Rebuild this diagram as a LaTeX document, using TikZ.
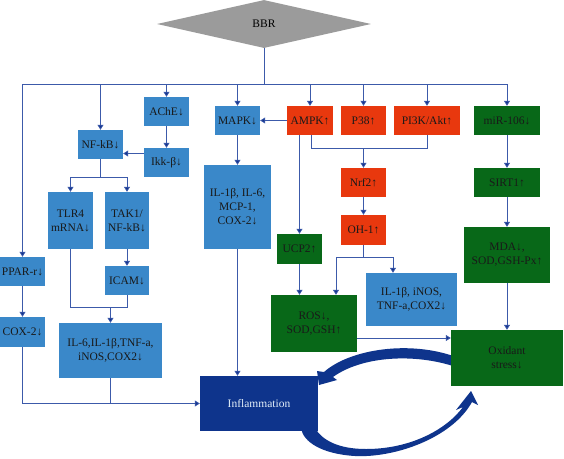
\documentclass[tikz,border=0pt]{standalone}
\usepackage{fontspec}
\setmainfont{Liberation Serif}
\usetikzlibrary{shapes.geometric,arrows.meta,calc}
\definecolor{lb}{RGB}{58,136,201}
\definecolor{rd}{RGB}{232,56,14}
\definecolor{gr}{RGB}{8,104,24}
\definecolor{db}{RGB}{14,52,140}
\definecolor{gy}{RGB}{155,155,155}
\definecolor{ln}{RGB}{60,90,170}
\definecolor{ah}{RGB}{20,50,140}
\begin{document}
\begin{tikzpicture}[x=1pt,y=-1pt,
  box/.style={rectangle, inner sep=1pt, align=center, font=\fontsize{11.5}{14}\selectfont, text=black!90},
  bluebox/.style={box, fill=lb},
  redbox/.style={box, fill=rd},
  greenbox/.style={box, fill=gr},
  conn/.style={draw=ln, line width=0.8pt},
  arr/.style={conn, -{Triangle[width=6pt,length=5pt,fill=ah]}},
  bigarrow/.style={fill=db}]
\useasboundingbox (0,0) rectangle (564,458);
\fill[white] (0,0) rectangle (564,458);

% curved arrows (drawn first, boxes cover tails)
\fill[bigarrow] (319,385) -- (317,371) -- (324,372)
  .. controls (350,349) and (410,340) .. (456,357) -- (456,367)
  .. controls (415,353) and (362,356) .. (333,377) -- (337,380) -- cycle;
\fill[bigarrow] (471,391) -- (478,405) -- (472,402)
  .. controls (452,438) and (395,458) .. (355,456)
  .. controls (322,454) and (303,442) .. (301,428) -- (315,428)
  .. controls (322,440) and (338,449) .. (366,449)
  .. controls (410,449) and (446,430) .. (463,407) -- (456,410) -- cycle;

% nodes
\node[diamond, fill=gy, minimum width=214pt, minimum height=48pt, inner sep=0pt, aspect=4.4,
  font=\fontsize{11.5}{14}\selectfont] (bbr) at (264,24) {BBR};
\node[bluebox, minimum width=45pt, minimum height=29pt] (ache) at (166.5,111.5) {AChE↓};
\node[bluebox, minimum width=45pt, minimum height=29pt] (nfkb) at (100.5,144.5) {NF-kB↓};
\node[bluebox, minimum width=45pt, minimum height=29pt] (ikk) at (166.5,162.5) {Ikk-β↓};
\node[bluebox, minimum width=45pt, minimum height=29pt] (mapk) at (237.5,120.5) {MAPK↓};
\node[redbox, minimum width=46pt, minimum height=29pt] (ampk) at (310,120.5) {AMPK↑};
\node[redbox, minimum width=45pt, minimum height=29pt] (p38) at (363.5,120.5) {P38↑};
\node[redbox, minimum width=66pt, minimum height=29pt] (pi3k) at (427,120.5) {PI3K/Akt↑};
\node[greenbox, minimum width=66pt, minimum height=29pt] (mir) at (507,120.5) {miR-106↓};
\node[bluebox, minimum width=45pt, minimum height=57pt] (tlr) at (70.5,220.5) {TLR4\\mRNA↓};
\node[bluebox, minimum width=44pt, minimum height=57pt] (tak) at (127,220.5) {TAK1/\\NF-kB↓};
\node[bluebox, minimum width=67pt, minimum height=84pt] (ilbig) at (237.5,207) {IL-1β, IL-6,\\MCP-1,\\COX-2↓};
\node[redbox, minimum width=45pt, minimum height=29pt] (nrf) at (363.5,182.5) {Nrf2↑};
\node[redbox, minimum width=45pt, minimum height=30pt] (oh) at (363.5,230) {OH-1↑};
\node[greenbox, minimum width=66pt, minimum height=29pt] (sirt) at (507,182.5) {SIRT1↑};
\node[greenbox, minimum width=86pt, minimum height=56pt] (mda) at (507,255) {MDA↓,\\SOD,GSH-Px↑};
\node[greenbox, minimum width=45pt, minimum height=30pt] (ucp) at (299.5,249) {UCP2↑};
\node[bluebox, minimum width=45pt, minimum height=29pt] (ppar) at (22.5,271.5) {PPAR-r↓};
\node[bluebox, minimum width=44pt, minimum height=29pt] (icam) at (127,280.5) {ICAM↓};
\node[bluebox, minimum width=45pt, minimum height=30pt] (cox) at (22.5,332) {COX-2↓};
\node[bluebox, minimum width=103pt, minimum height=55pt] (il6) at (110.5,350.5) {IL-6,IL-1β,TNF-a,\\iNOS,COX2↓};
\node[greenbox, minimum width=86pt, minimum height=57pt] (ros) at (314,323.5) {ROS↓,\\SOD,GSH↑};
\node[bluebox, minimum width=91pt, minimum height=53pt] (ilinos) at (411.5,299.5) {IL-1β, iNOS,\\TNF-a,COX2↓};
\node[greenbox, minimum width=112pt, minimum height=56pt] (ox) at (507,358) {Oxidant\\stress↓};
\node[box, fill=db, text=white!85!lb, minimum width=118pt, minimum height=55pt] (infl) at (259,403.5) {Inflammation};

% BBR bus
\coordinate (bus) at (264,84);
\draw[conn] (bbr.south) -- (bus);
\draw[conn] (ppar.north |- bus) -- (mir.north |- bus);
\foreach \n in {ppar,nfkb,ache,mapk,ampk,p38,pi3k,mir}
  \draw[arr] (\n.north |- bus) -- (\n.north);

% left cluster
\draw[arr] (ache) -- (ikk);
\coordinate (ikkmid) at ($(ikk.west)!.5!(nfkb.east)$);
\draw[arr] (ikk.west |- ikkmid) -- (nfkb.east |- ikkmid);
\coordinate (nfsplit) at (100.5,177);
\draw[conn] (nfkb.south) -- (nfsplit);
\draw[conn] (tlr.north |- nfsplit) -- (tak.north |- nfsplit);
\draw[arr] (tlr.north |- nfsplit) -- (tlr.north);
\draw[arr] (tak.north |- nfsplit) -- (tak.north);
\draw[arr] (tak) -- (icam);
\coordinate (join1) at (110.5,307);
\draw[conn] (tlr.south) -- (tlr.south |- join1) -- (icam.south |- join1) -- (icam.south);
\draw[arr] (join1) -- (il6.north);
\draw[arr] (ppar) -- (cox);
\draw[arr] (cox.south) -- (cox.south |- infl.west) -- (infl.west);
\draw[conn] (il6.south) -- (il6.south |- infl.west);

% MAPK column
\draw[arr] (mapk) -- (ilbig);
\draw[arr] (ilbig.south) -- (infl.north -| ilbig.south);
\draw[arr] (ampk.west) -- (mapk.east);

% AMPK / PI3K to Nrf2
\coordinate (nrfbus) at (363.5,148);
\draw[conn] (ampk.south -| 311,0) -- (311,148) -- (pi3k.south |- nrfbus) -- (pi3k.south);
\draw[arr] (nrfbus) -- (nrf.north);
\draw[arr] (ucp.north |- ampk.south) -- (ucp.north);
\draw[arr] (nrf) -- (oh);
\coordinate (ohbus) at (363.5,257);
\draw[conn] (oh.south) -- (ohbus);
\draw[conn] (336,257) -- (393,257);
\draw[arr] (336,257) -- (ros.north -| 336,0);
\draw[arr] (393,257) -- (ilinos.north -| 393,0);
\draw[arr] (ucp.south) -- (ros.north -| ucp.south);
\coordinate (rosy) at (0,338);
\draw[arr] (ros.east |- rosy) -- (ox.west |- rosy);

% right column
\draw[arr] (mir) -- (sirt);
\draw[arr] (sirt) -- (mda);
\draw[arr] (mda) -- (ox);
\end{tikzpicture}
\end{document}
